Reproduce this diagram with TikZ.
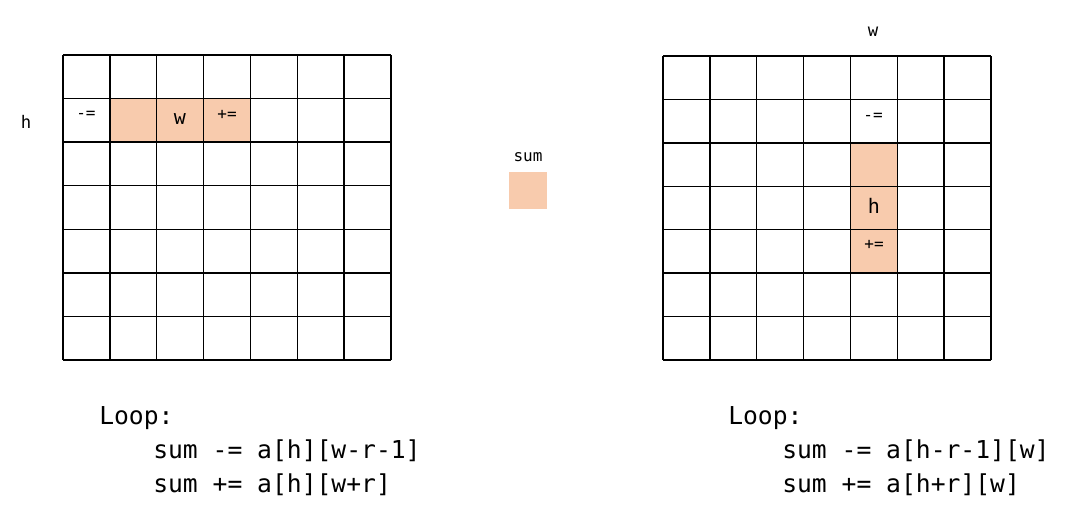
\documentclass[tikz,border=0pt]{standalone}
\usepackage{fontspec}
\setmonofont{DejaVu Sans Mono}
\usetikzlibrary{positioning}
\definecolor{peach}{HTML}{F8CBAD}

\begin{document}
\begin{tikzpicture}[x=0.75pt,y=-0.75pt,
    gridline/.style={draw=black,line width=1pt},
    small/.style={font=\ttfamily\fontsize{12}{14}\selectfont},
    tag/.style={font=\ttfamily\fontsize{13}{15}\selectfont},
    inner/.style={font=\ttfamily\fontsize{15}{17}\selectfont},
    code/.style={font=\ttfamily\fontsize{18.5}{22}\selectfont,anchor=west,inner sep=0pt}]
    \useasboundingbox (0,0) rectangle (1068,511);

    % left grid: window moves along the row
    \foreach \c in {1,2,3}
        \fill[peach] ({63+\c*46.857},98.57) rectangle ++(46.857,43.57);
    \foreach \i in {0,...,7} {
        \draw[gridline] ({63+\i*46.857},55) -- ({63+\i*46.857},360);
        \draw[gridline] (63,{55+\i*43.57}) -- (391,{55+\i*43.57});
    }
    \node[tag] (lh) at (26,122) {h};
    \node[small] (lsub) at (86,115) {-=};
    \node[inner] (lw) at (180,119) {w};
    \node[small] (ladd) at (227,115) {+=};

    % sum box
    \fill[peach] (509,172) rectangle (547,209);
    \node[small] (sum) at (528,157) {sum};

    % right grid: window moves along the column
    \foreach \r in {2,3,4}
        \fill[peach] (850.43,{56+\r*43.43}) rectangle ++(46.857,43.43);
    \foreach \i in {0,...,7} {
        \draw[gridline] ({663+\i*46.857},56) -- ({663+\i*46.857},360);
        \draw[gridline] (663,{56+\i*43.43}) -- (991,{56+\i*43.43});
    }
    \node[tag] (rw) at (873,32) {w};
    \node[small] (rsub) at (873,117) {-=};
    \node[inner] (rh) at (874,206) {h};
    \node[small] (radd) at (874,245) {+=};

    % loop code
    \node[code] (lloop) at (99,418) {Loop:};
    \node[code] (lline1) at (153,451) {sum -= a[h][w-r-1]};
    \node[code] (lline2) at (153,485) {sum += a[h][w+r]};
    \node[code] (rloop) at (728,418) {Loop:};
    \node[code] (rline1) at (782,451) {sum -= a[h-r-1][w]};
    \node[code] (rline2) at (782,485) {sum += a[h+r][w]};
\end{tikzpicture}
\end{document}
